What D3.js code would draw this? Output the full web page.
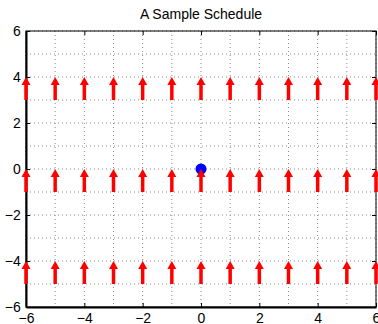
<!DOCTYPE html>
<html>
<head>
<meta charset="utf-8">
<script src="https://cdn.jsdelivr.net/npm/d3@7"></script>
<style>
  body { margin: 0; background: #fff; }
  text { font-family: "Liberation Sans", Arial, sans-serif; }
</style>
</head>
<body>
<div id="chart"></div>
<script>
// arrow tails (x, y) and vector components
let arrowX = [-6, -5, -4, -3, -2, -1, 0, 1, 2, 3, 4, 5, 6];
let arrowRowsY = [3, -1, -5];
let arrowU = 0;
let arrowV = 1;
// single point
let pointX = [0];
let pointY = [0];
// ticks
let xTicks = [-6, -4, -2, 0, 2, 4, 6];
let yTicks = [-6, -4, -2, 0, 2, 4, 6];
let gridTicks = [-6, -5, -4, -3, -2, -1, 0, 1, 2, 3, 4, 5, 6];

let svgWidth = 378, svgHeight = 324;
let margin = { top: 31, right: 2, bottom: 17, left: 26 };
let width = svgWidth - margin.left - margin.right;
let height = svgHeight - margin.top - margin.bottom;

let svg = d3.select("#chart").append("svg")
  .attr("width", svgWidth)
  .attr("height", svgHeight);

let g = svg.append("g")
  .attr("transform", `translate(${margin.left},${margin.top})`);

let x = d3.scaleLinear().domain([-6, 6]).range([0, width]);
let y = d3.scaleLinear().domain([-6, 6]).range([height, 0]);

// grid
g.selectAll(".vgrid").data(gridTicks).enter().append("line")
  .attr("x1", d => x(d)).attr("x2", d => x(d))
  .attr("y1", 0).attr("y2", height)
  .attr("stroke", "#8a8a8a").attr("stroke-width", 1)
  .attr("stroke-dasharray", "1,3");
g.selectAll(".hgrid").data(gridTicks).enter().append("line")
  .attr("y1", d => y(d)).attr("y2", d => y(d))
  .attr("x1", 0).attr("x2", width)
  .attr("stroke", "#8a8a8a").attr("stroke-width", 1)
  .attr("stroke-dasharray", "1,3");

// box
g.append("rect")
  .attr("x", 0).attr("y", 0).attr("width", width).attr("height", height)
  .attr("fill", "none").attr("stroke", "#000").attr("stroke-width", 1);

// axes
let fmt = d => d < 0 ? "\u2212" + Math.abs(d) : "" + d;
let bottomAxis = d3.axisBottom(x).tickValues(xTicks).tickSizeInner(-4).tickSizeOuter(0).tickPadding(8).tickFormat(fmt);
let leftAxis = d3.axisLeft(y).tickValues(yTicks).tickSizeInner(-4).tickSizeOuter(0).tickPadding(8).tickFormat(fmt);
let topAxis = d3.axisTop(x).tickValues(xTicks).tickSizeInner(-4).tickSizeOuter(0).tickFormat("");
let rightAxis = d3.axisRight(y).tickValues(yTicks).tickSizeInner(-4).tickSizeOuter(0).tickFormat("");

g.append("g").attr("transform", `translate(0,${height})`).call(bottomAxis)
  .call(a => a.select(".domain").attr("stroke-width", 2))
  .selectAll("text").attr("font-size", 14).attr("fill", "#000").attr("dy", "0.6em");
g.append("g").call(leftAxis)
  .call(a => a.select(".domain").attr("stroke-width", 2))
  .selectAll("text").attr("font-size", 14).attr("fill", "#000").attr("dx", "0.2em");
g.append("g").call(topAxis).select(".domain").remove();
g.append("g").attr("transform", `translate(${width},0)`).call(rightAxis).select(".domain").remove();

// point
g.selectAll(".pt").data(pointX).enter().append("circle")
  .attr("cx", (d, i) => x(d)).attr("cy", (d, i) => y(pointY[i]))
  .attr("r", 5.5).attr("fill", "#0000ff");

// arrows
let arrows = [];
arrowRowsY.forEach(yy => arrowX.forEach(xx => arrows.push({ x: xx, y: yy })));
let headLen = 8, headHalf = 4.5;
arrows.forEach(a => {
  let x0 = x(a.x), y0 = y(a.y);
  let x1 = x(a.x + arrowU), y1 = y(a.y + arrowV);
  g.append("line")
    .attr("x1", x0).attr("y1", y0).attr("x2", x1).attr("y2", y1 + headLen - 1)
    .attr("stroke", "#ff0000").attr("stroke-width", 3.5);
  g.append("path")
    .attr("d", `M${x1},${y1} L${x1 - headHalf},${y1 + headLen} L${x1 + headHalf},${y1 + headLen} Z`)
    .attr("fill", "#ff0000");
});

// title
svg.append("text")
  .attr("x", margin.left + width / 2).attr("y", 19)
  .attr("text-anchor", "middle").attr("font-size", 14)
  .text("A Sample Schedule");
</script>
</body>
</html>
